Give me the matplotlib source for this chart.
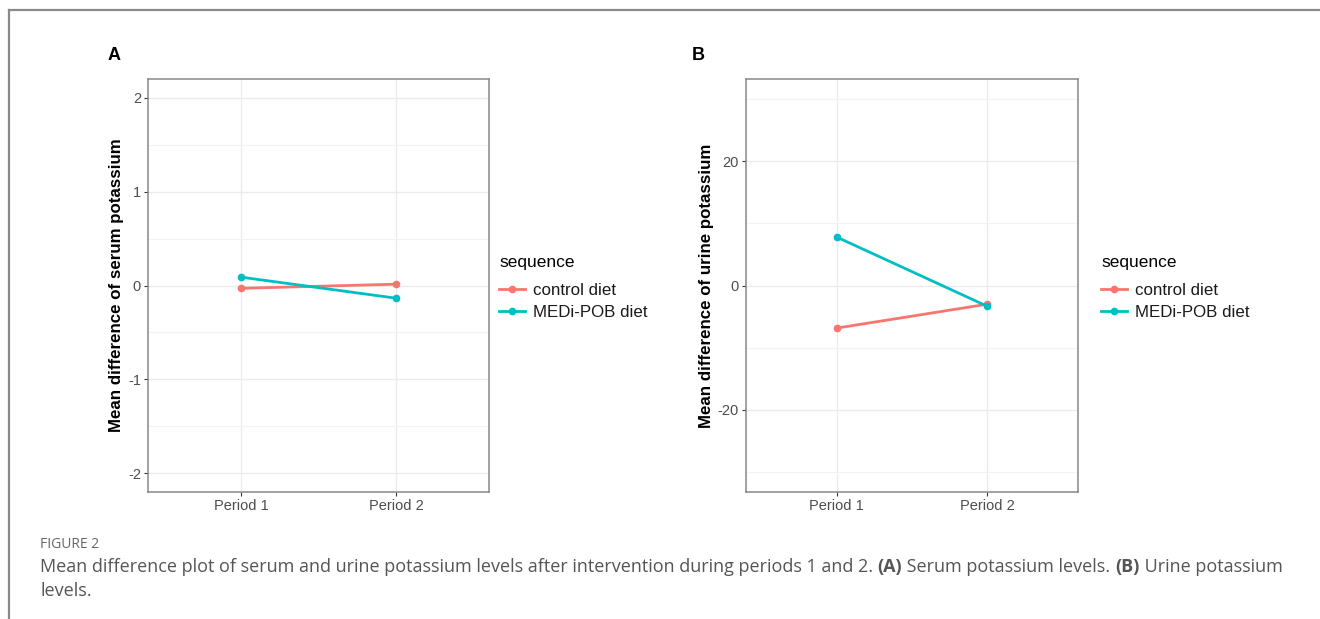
import matplotlib
matplotlib.use("Agg")
import matplotlib.pyplot as plt
from matplotlib.lines import Line2D
import numpy as np

periods = ["Period 1", "Period 2"]
series_names = ["control diet", "MEDi-POB diet"]
serum_control = [-0.03, 0.014]
serum_medi = [0.089, -0.135]
urine_control = [-6.85, -3.0]
urine_medi = [7.8, -3.35]
serum_ticks = [-2, -1, 0, 1, 2]
urine_ticks = [-20, 0, 20]
colors = ["#F8766D", "#00BFC4"]

W, H = 1320, 619
fig = plt.figure(figsize=(W / 100, H / 100), dpi=100)
plt.rcParams['font.family'] = ['Liberation Sans', 'DejaVu Sans']
plt.rcParams['axes.unicode_minus'] = False

def px_axes(l, t, r, b):
    return fig.add_axes([l / W, 1 - b / H, (r - l) / W, (b - t) / H])

def style(ax, ylim, major, minor, ylabel):
    ax.set_xlim(0.4, 2.6)
    ax.set_ylim(*ylim)
    ax.set_xticks([1, 2])
    ax.set_xticklabels(periods)
    ax.set_yticks(major)
    ax.set_yticks(minor, minor=True)
    ax.grid(True, which='major', color='#EBEBEB', linewidth=1.0, zorder=0)
    ax.grid(True, which='minor', axis='y', color='#F2F2F2', linewidth=0.8, zorder=0)
    ax.tick_params(which='major', length=3, width=0.8, color='#333333',
                   labelsize=10.5, labelcolor='#4D4D4D', pad=2)
    ax.tick_params(which='minor', length=0)
    for s in ax.spines.values():
        s.set_color('#888888')
        s.set_linewidth(1.1)
    ax.set_ylabel(ylabel, fontsize=12.2, fontweight='bold', color='black', labelpad=3)
    ax.set_axisbelow(True)

x = [1, 2]
axA = px_axes(148, 79, 489, 492)
for vals, c in zip([serum_control, serum_medi], colors):
    axA.plot(x, vals, color=c, lw=2.0, marker='o', ms=4.5, zorder=3)
style(axA, (-2.2, 2.2), serum_ticks, [-1.5, -0.5, 0.5, 1.5],
      "Mean difference of serum potassium")

axB = px_axes(746, 79, 1078, 492)
for vals, c in zip([urine_control, urine_medi], colors):
    axB.plot(x, vals, color=c, lw=2.0, marker='o', ms=4.5, zorder=3)
style(axB, (-33.2, 33.2), urine_ticks, [-30, -10, 10, 30],
      "Mean difference of urine potassium")

handles = [Line2D([0], [0], color=c, lw=2.0, marker='o', ms=4.5) for c in colors]
for lx in (484, 1086):
    leg = fig.legend(handles, series_names, title="sequence", loc='upper left',
                     bbox_to_anchor=(lx / W, 1 - 240 / H), frameon=False,
                     fontsize=12.2, title_fontsize=12.5, handlelength=1.5,
                     handletextpad=0.5, labelspacing=0.45)
    leg._legend_box.align = "left"
    leg._legend_box.sep = 9
    for t in leg.get_texts():
        t.set_color('#1a1a1a')

fig.text(108 / W, 1 - 55 / H, "A", fontsize=13, fontweight='bold', va='center', ha='left')
fig.text(692 / W, 1 - 55 / H, "B", fontsize=13, fontweight='bold', va='center', ha='left')

# frame (top and left lines)
fig.add_artist(Line2D([9 / W, 9 / W], [0, 1 - 10 / H], color='#8a8a8a', lw=1.6))
fig.add_artist(Line2D([9 / W, 1], [1 - 10 / H, 1 - 10 / H], color='#8a8a8a', lw=1.6))

cap_font = ['Open Sans', 'DejaVu Sans']
fig.text(40 / W, 1 - 544 / H, "FIGURE 2", fontsize=10, color='#666666',
         family=cap_font, va='center', ha='left')

fig.canvas.draw()
renderer = fig.canvas.get_renderer()
segments = [("Mean difference plot of serum and urine potassium levels after intervention during periods 1 and 2. ", 'normal'),
            ("(A)", 'bold'), (" Serum potassium levels. ", 'normal'),
            ("(B)", 'bold'), (" Urine potassium", 'normal')]
xpos = 40
for txt, wt in segments:
    t = fig.text(xpos / W, 1 - 567 / H, txt, fontsize=13, color='#555555',
                 family=cap_font, fontweight=wt, va='center', ha='left')
    bb = t.get_window_extent(renderer)
    xpos = bb.x1
fig.text(40 / W, 1 - 591 / H, "levels.", fontsize=13, color='#555555',
         family=cap_font, va='center', ha='left')

fig.savefig("out.png", dpi=100)
